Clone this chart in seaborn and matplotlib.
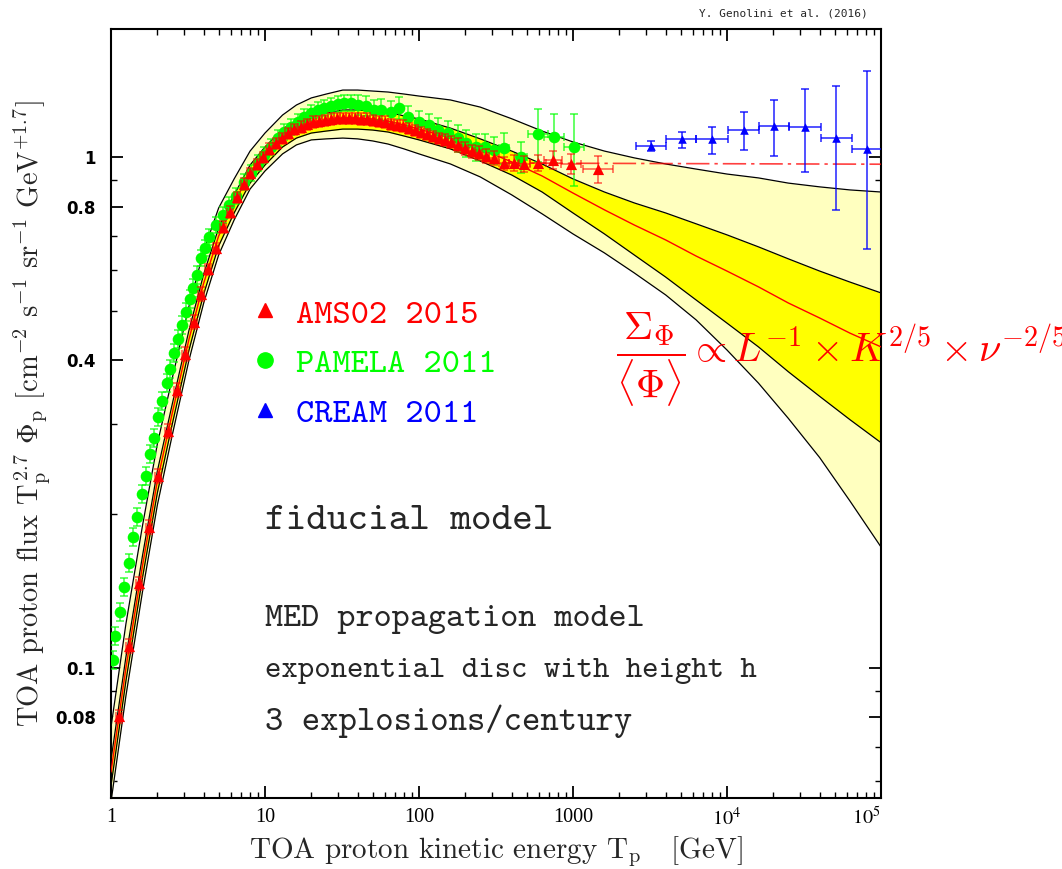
import matplotlib
matplotlib.use("Agg")
import matplotlib.pyplot as plt
import pandas as pd
import seaborn as sns
from matplotlib.lines import Line2D
from matplotlib.ticker import FixedLocator, FixedFormatter, NullFormatter

# ---------------- model band (kinetic energy in GeV, flux x T^2.7) ----------------
energy_nodes = [1, 1.25, 1.6, 2, 2.5, 3.2, 4, 5, 6.3, 8,
                10, 13, 16, 20, 25, 32, 40, 50, 63, 80,
                100, 160, 250, 400, 630, 1000, 1600, 2500, 4000, 6300,
                1e4, 1.6e4, 2.5e4, 4e4, 6.3e4, 1e5]
flux_central = [0.0626, 0.100, 0.1583, 0.2322, 0.3155, 0.4384, 0.5666, 0.7004, 0.8128, 0.9304,
                1.009, 1.094, 1.139, 1.166, 1.176, 1.192, 1.192, 1.187, 1.176, 1.155,
                1.134, 1.089, 1.037, 0.978, 0.918, 0.850, 0.788, 0.736, 0.688, 0.640,
                0.598, 0.557, 0.518, 0.484, 0.452, 0.425]
flux_outer_hi = [0.0766, 0.1220, 0.1896, 0.2745, 0.3694, 0.5086, 0.6548, 0.7946, 0.9056, 1.027,
                 1.114, 1.208, 1.264, 1.305, 1.328, 1.352, 1.352, 1.346, 1.340, 1.328,
                 1.316, 1.293, 1.252, 1.188, 1.124, 1.070, 1.027, 0.996, 0.969, 0.947,
                 0.926, 0.910, 0.889, 0.874, 0.862, 0.854]
flux_inner_hi = [0.0661, 0.1051, 0.1656, 0.2429, 0.3286, 0.4566, 0.5902, 0.7262, 0.8426, 0.9645,
                 1.046, 1.134, 1.181, 1.208, 1.219, 1.236, 1.236, 1.230, 1.225, 1.203,
                 1.187, 1.139, 1.085, 1.027, 0.969, 0.906, 0.854, 0.813, 0.777, 0.740,
                 0.704, 0.667, 0.632, 0.598, 0.569, 0.542]
flux_inner_lo = [0.0588, 0.0943, 0.1500, 0.2201, 0.3002, 0.4173, 0.5393, 0.6697, 0.777, 0.889,
                 0.9645, 1.046, 1.089, 1.114, 1.124, 1.134, 1.134, 1.129, 1.119, 1.099,
                 1.080, 1.037, 0.982, 0.922, 0.854, 0.777, 0.707, 0.643, 0.582, 0.525,
                 0.473, 0.425, 0.380, 0.340, 0.306, 0.276]
flux_outer_lo = [0.0547, 0.0882, 0.1408, 0.2084, 0.2858, 0.3989, 0.5181, 0.6430, 0.7527, 0.8657,
                 0.9389, 1.014, 1.056, 1.080, 1.085, 1.089, 1.085, 1.075, 1.060, 1.037,
                 1.014, 0.969, 0.914, 0.843, 0.774, 0.707, 0.649, 0.593, 0.537, 0.480,
                 0.419, 0.361, 0.308, 0.258, 0.212, 0.1725]

# high-energy fit to the measured flux
fit_energy = [350, 1e5]
fit_flux = [0.973, 0.968]

# ---------------- AMS-02 (2015) ----------------
ams_energy = [1.127, 1.309, 1.520, 1.765, 2.020, 2.345, 2.683, 3.023, 3.459, 3.841,
              4.265, 4.806, 5.337, 5.926, 6.580, 7.305, 7.990, 8.873, 9.705, 10.62,
              11.79, 12.90, 14.11, 15.43, 17.13, 18.74, 20.49, 22.42, 24.52, 26.83,
              29.34, 32.09, 35.11, 38.40, 42.01, 45.95, 50.26, 54.99, 60.14, 65.79,
              71.96, 78.72, 86.11, 94.19, 103.0, 112.7, 123.3, 134.9, 147.5, 161.4,
              179.2, 199.0, 220.9, 245.2, 272.3, 306.9, 356.4, 414.0, 480.8, 592.6,
              741.6, 970.5, 1453]
ams_flux = [0.0805, 0.1104, 0.1466, 0.1888, 0.2375, 0.2909, 0.3500, 0.4116, 0.4755, 0.5393,
            0.6036, 0.6636, 0.7295, 0.7806, 0.8350, 0.8855, 0.9304, 0.9689, 1.000, 1.037,
            1.065, 1.089, 1.114, 1.134, 1.145, 1.160, 1.171, 1.176, 1.181, 1.187,
            1.192, 1.192, 1.192, 1.192, 1.187, 1.187, 1.181, 1.176, 1.171, 1.160,
            1.155, 1.150, 1.139, 1.129, 1.119, 1.109, 1.099, 1.089, 1.080, 1.070,
            1.056, 1.041, 1.027, 1.018, 1.005, 0.996, 0.973, 0.973, 0.969, 0.973,
            0.987, 0.969, 0.947]
ams_err_pct = [3.0, 3.0, 3.0, 3.0, 3.0, 3.0, 3.0, 3.0, 3.0, 3.0,
               2.5, 2.5, 2.5, 2.5, 2.5, 2.5, 2.5, 2.5, 2.5, 2.5,
               2.5, 2.5, 2.5, 2.5, 2.5, 2.5, 2.5, 2.5, 2.5, 2.5,
               2.5, 2.5, 2.5, 2.5, 2.5, 2.5, 2.5, 2.5, 2.5, 2.5,
               2.5, 2.5, 2.5, 2.5, 2.5, 2.5, 2.5, 2.5, 2.5, 2.5,
               3.0, 3.0, 3.0, 3.0, 3.0, 3.0, 3.0, 3.5, 3.5, 3.5,
               4.0, 4.5, 6.0]
ams_bin_dex = [0.022, 0.022, 0.022, 0.022, 0.022, 0.022, 0.022, 0.022, 0.022, 0.022,
               0.022, 0.022, 0.022, 0.022, 0.022, 0.022, 0.022, 0.022, 0.022, 0.022,
               0.022, 0.022, 0.022, 0.022, 0.022, 0.022, 0.022, 0.022, 0.022, 0.022,
               0.022, 0.022, 0.022, 0.022, 0.022, 0.022, 0.022, 0.022, 0.022, 0.022,
               0.022, 0.022, 0.022, 0.022, 0.022, 0.022, 0.022, 0.022, 0.022, 0.022,
               0.022, 0.022, 0.022, 0.022, 0.022, 0.030, 0.030, 0.035, 0.040, 0.050,
               0.060, 0.065, 0.100]

# ---------------- PAMELA (2011) ----------------
pamela_energy = [1.030, 1.062, 1.144, 1.214, 1.309, 1.390, 1.475, 1.590, 1.688, 1.792,
                 1.902, 2.020, 2.144, 2.310, 2.416, 2.565, 2.723, 2.891, 3.069, 3.258,
                 3.407, 3.617, 3.841, 4.077, 4.329, 4.806, 5.337, 5.837, 6.482, 7.305,
                 8.113, 9.006, 9.851, 10.94, 12.14, 13.29, 14.75, 16.38, 17.92, 19.89,
                 22.09, 24.16, 26.83, 29.79, 32.59, 36.18, 40.17, 45.27, 51.04, 56.65,
                 65.79, 74.15, 84.84, 100.0, 116.1, 132.9, 154.3, 179.2, 202.0, 234.5,
                 268.3, 306.9, 356.4, 459.5, 592.6, 752.8, 1015]
pamela_flux = [0.1037, 0.1155, 0.1287, 0.1440, 0.1605, 0.1805, 0.1974, 0.2190, 0.2375, 0.2623,
               0.2818, 0.3099, 0.3331, 0.3612, 0.3847, 0.4134, 0.4404, 0.4690, 0.4972, 0.5275,
               0.5543, 0.5876, 0.6345, 0.6636, 0.6973, 0.7360, 0.7700, 0.8055, 0.8388, 0.8935,
               0.9304, 0.9734, 1.009, 1.046, 1.089, 1.119, 1.145, 1.171, 1.198, 1.219,
               1.236, 1.247, 1.258, 1.270, 1.276, 1.276, 1.264, 1.258, 1.236, 1.236,
               1.225, 1.247, 1.198, 1.171, 1.155, 1.129, 1.114, 1.089, 1.065, 1.046,
               1.046, 1.032, 1.041, 1.000, 1.109, 1.094, 1.046]
pamela_err_pct = [4.0, 4.0, 4.0, 4.0, 4.0, 4.0, 4.0, 4.0, 4.0, 4.0,
                  4.0, 4.0, 4.0, 4.0, 4.0, 4.0, 4.0, 4.0, 4.0, 4.0,
                  4.0, 4.0, 3.5, 3.5, 3.5, 3.5, 3.5, 3.5, 3.5, 3.5,
                  3.5, 3.5, 3.5, 3.5, 3.5, 3.5, 3.5, 3.5, 3.5, 3.5,
                  3.5, 3.5, 3.5, 3.5, 3.5, 3.5, 4.5, 4.5, 4.5, 5.0,
                  5.0, 5.0, 5.0, 5.0, 5.0, 5.5, 5.5, 6.0, 6.0, 6.0,
                  6.0, 6.0, 7.0, 7.0, 12.0, 11.0, 16.0]
pamela_bin_dex = [0, 0, 0, 0, 0, 0, 0, 0, 0, 0,
                  0, 0, 0, 0, 0, 0, 0, 0, 0, 0,
                  0, 0, 0, 0, 0, 0, 0, 0, 0, 0,
                  0, 0, 0, 0, 0, 0, 0, 0, 0, 0,
                  0, 0, 0, 0, 0, 0, 0, 0, 0, 0,
                  0, 0, 0, 0, 0, 0, 0, 0, 0, 0,
                  0, 0.030, 0.030, 0.040, 0.065, 0.065, 0.068]

# ---------------- CREAM (2011) ----------------
cream_energy = [3210, 5100, 8000, 12900, 20200, 32100, 51000, 81100]
cream_flux = [1.051, 1.084, 1.084, 1.129, 1.150, 1.145, 1.089, 1.037]
cream_flux_hi = [1.075, 1.119, 1.145, 1.225, 1.293, 1.359, 1.377, 1.473]
cream_flux_lo = [1.027, 1.041, 1.014, 1.032, 1.005, 0.935, 0.788, 0.661]
cream_bin_edges = [2570, 4020, 6300, 10150, 16100, 25300, 40800, 64800, 103000]

legend_labels = ["AMS02 2015", "PAMELA 2011", "CREAM 2011"]
x_tick_values = [1, 10, 100, 1000, 1e4, 1e5]
x_tick_labels = ["1", "10", "100", "1000", "$10^4$", "$10^5$"]
y_tick_values = [0.08, 0.1, 0.4, 0.8, 1]
y_tick_labels = ["0.08", "0.1", "0.4", "0.8", "1"]
y_minor_values = [0.06, 0.07, 0.09, 0.2, 0.3, 0.5, 0.6, 0.7, 0.9]

RED = "#ff0000"
GREEN = "#00ff00"
BLUE = "#0000ff"
INK = "#262626"

sns.set_theme(style="ticks")
plt.rcParams.update({
    "font.family": ["DejaVu Sans"],
    "mathtext.fontset": "stix",
    "xtick.direction": "in",
    "ytick.direction": "in",
    "xtick.top": True,
    "ytick.right": True,
    "xtick.major.size": 8.6,
    "ytick.major.size": 8.6,
    "xtick.minor.size": 4.0,
    "ytick.minor.size": 4.0,
    "xtick.major.width": 1.3,
    "ytick.major.width": 1.3,
    "xtick.minor.width": 1.0,
    "ytick.minor.width": 1.0,
    "xtick.color": "black",
    "ytick.color": "black",
    "axes.edgecolor": "black",
    "axes.linewidth": 1.5,
})

fig = plt.figure(figsize=(10.62, 8.69), dpi=100)
ax = fig.add_axes([0.10452, 0.08170, 0.72505, 0.88493])
ax.set_xscale("log")
ax.set_yscale("log")

# uncertainty band of the propagation model
ax.fill_between(energy_nodes, flux_outer_lo, flux_outer_hi, color="#ffffbf", lw=0, zorder=1)
ax.fill_between(energy_nodes, flux_inner_lo, flux_inner_hi, color="#ffff00", lw=0, zorder=2)

edges = pd.concat([
    pd.DataFrame({"E": energy_nodes, "F": flux_outer_hi, "curve": "outer_hi"}),
    pd.DataFrame({"E": energy_nodes, "F": flux_inner_hi, "curve": "inner_hi"}),
    pd.DataFrame({"E": energy_nodes, "F": flux_inner_lo, "curve": "inner_lo"}),
    pd.DataFrame({"E": energy_nodes, "F": flux_outer_lo, "curve": "outer_lo"}),
])
sns.lineplot(data=edges, x="E", y="F", units="curve", estimator=None, sort=False,
             color="black", lw=0.9, ax=ax, zorder=3, legend=False)
sns.lineplot(x=energy_nodes, y=flux_central, color=RED, lw=1.0, ax=ax, zorder=3,
             estimator=None, sort=False)
ax.plot(fit_energy, fit_flux, color=RED, alpha=0.75, lw=1.2, zorder=3,
        dashes=[14, 3, 2, 3])


def bin_halfwidths(energies, dex):
    lo = [e * (1 - 10 ** (-d)) for e, d in zip(energies, dex)]
    hi = [e * (10 ** d - 1) for e, d in zip(energies, dex)]
    return [lo, hi]


def rel_errors(fluxes, pct):
    return [[f * p / 100 for f, p in zip(fluxes, pct)]] * 2


# PAMELA
ax.errorbar(pamela_energy, pamela_flux, yerr=rel_errors(pamela_flux, pamela_err_pct),
            xerr=bin_halfwidths(pamela_energy, pamela_bin_dex), fmt="none",
            ecolor=GREEN, alpha=0.7, elinewidth=1.2, capsize=3, capthick=1.2, zorder=4)
sns.scatterplot(x=pamela_energy, y=pamela_flux, marker="o", s=70, color=GREEN,
                linewidth=0, ax=ax, zorder=5)

# AMS-02
ax.errorbar(ams_energy, ams_flux, yerr=rel_errors(ams_flux, ams_err_pct),
            xerr=bin_halfwidths(ams_energy, ams_bin_dex), fmt="none",
            ecolor=RED, alpha=0.6, elinewidth=1.2, capsize=3, capthick=1.2, zorder=6)
sns.scatterplot(x=ams_energy, y=ams_flux, marker="^", s=65, color=RED,
                linewidth=0, ax=ax, zorder=7)

# CREAM
cream_xerr = [[e - lo for e, lo in zip(cream_energy, cream_bin_edges[:-1])],
              [hi - e for e, hi in zip(cream_energy, cream_bin_edges[1:])]]
cream_yerr = [[f - lo for f, lo in zip(cream_flux, cream_flux_lo)],
              [hi - f for f, hi in zip(cream_flux, cream_flux_hi)]]
ax.errorbar(cream_energy, cream_flux, yerr=cream_yerr, xerr=cream_xerr, fmt="none",
            ecolor=BLUE, alpha=0.8, elinewidth=1.2, capsize=3, capthick=1.2, zorder=6)
sns.scatterplot(x=cream_energy, y=cream_flux, marker="^", s=38, color=BLUE,
                linewidth=0, ax=ax, zorder=7)

ax.set_xlim(1, 1e5)
ax.set_ylim(0.05566, 1.7802)

# ticks
ax.xaxis.set_major_locator(FixedLocator(x_tick_values))
ax.xaxis.set_major_formatter(FixedFormatter(x_tick_labels))
ax.yaxis.set_major_locator(FixedLocator(y_tick_values))
ax.yaxis.set_major_formatter(FixedFormatter(y_tick_labels))
ax.yaxis.set_minor_locator(FixedLocator(y_minor_values))
ax.yaxis.set_minor_formatter(NullFormatter())
ax.xaxis.set_minor_formatter(NullFormatter())
ax.tick_params(axis="x", which="major", pad=7)
ax.tick_params(axis="y", which="major", pad=11)
xlabs = ax.get_xticklabels()
for lab in xlabs:
    lab.set_fontfamily("Liberation Serif")
    lab.set_fontsize(14.5)
xlabs[-1].set_horizontalalignment("right")
for lab in ax.get_yticklabels():
    lab.set_fontfamily("DejaVu Sans")
    lab.set_fontweight("bold")
    lab.set_fontsize(12)
for sp in ax.spines.values():
    sp.set_linewidth(1.5)
    sp.set_color("black")

ax.set_xlabel(r"TOA proton kinetic energy T$_\mathrm{p}$   [GeV]", fontfamily="cmr10",
              math_fontfamily="cm", fontsize=21, labelpad=3, color=INK)
ax.set_ylabel(r"TOA proton flux T$_\mathrm{p}^{\,2.7}$ $\Phi_\mathrm{p}$ [cm$^{-2}$ s$^{-1}$ "
              r"sr$^{-1}$ GeV$^{+1.7}$]", fontfamily="cmr10", math_fontfamily="cm",
              fontsize=20.5, labelpad=2, color=INK)

# data set legend
handles = [Line2D([], [], ls="none", marker="^", color=RED, markersize=10),
           Line2D([], [], ls="none", marker="o", color=GREEN, markersize=11),
           Line2D([], [], ls="none", marker="^", color=BLUE, markersize=10)]
ax.legend(handles, legend_labels, loc="upper left", bbox_to_anchor=(0.177, 0.6498),
          frameon=False, borderpad=0, borderaxespad=0, handlelength=1.0,
          handletextpad=0.4, labelspacing=0.5, labelcolor=[RED, GREEN, BLUE],
          prop={"family": "cmtt10", "size": 25})

# model description
ax.text(0.2, 0.3498, "fiducial model", transform=ax.transAxes, fontfamily="cmtt10",
        fontsize=28.2, color=INK, va="baseline")
for txt, yb, fs in [("MED propagation model", 0.2237, 24.8),
                    ("exponential disc with height h", 0.1573, 22.5),
                    ("3 explosions/century", 0.0884, 25.2)]:
    ax.text(0.2, yb, txt, transform=ax.transAxes, fontfamily="cmtt10",
            fontsize=fs, color=INK, va="baseline")

ax.text(0.656, 0.5659,
        r"$\dfrac{\Sigma_\Phi}{\langle\Phi\rangle} \propto L^{-1} \times K^{2/5} \times \nu^{-2/5}$",
        transform=ax.transAxes, color=RED, fontsize=29, math_fontfamily="cm",
        va="baseline", ha="left", clip_on=False, zorder=10)

fig.text(868 / 1062, 1 - 16 / 869, "Y. Genolini et al. (2016)", fontfamily="DejaVu Sans Mono",
         fontsize=8, ha="right", va="baseline")

fig.savefig("out.png", dpi=100)
